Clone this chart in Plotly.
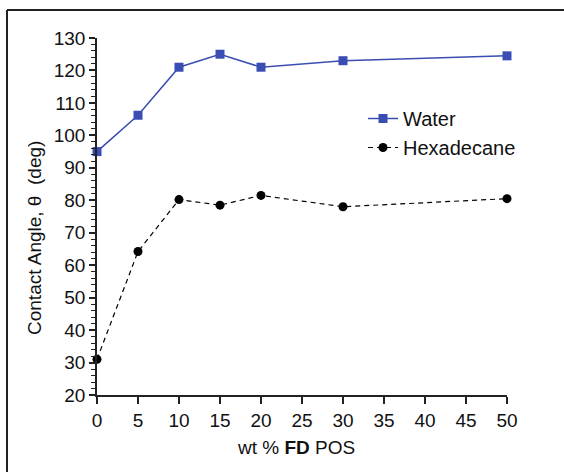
import plotly.graph_objects as go

wt_pct = [0, 5, 10, 15, 20, 30, 50]
water = [95, 106.2, 121, 125, 121, 123, 124.5]
hexadecane = [31, 64.2, 80.2, 78.5, 81.5, 78, 80.5]

FONT = "Liberation Sans, Arial, sans-serif"
BLUE = "#3a4db3"

fig = go.Figure()
fig.add_trace(go.Scatter(
    x=wt_pct, y=water, name="Water", mode="lines+markers",
    line=dict(color=BLUE, width=1.5),
    marker=dict(symbol="square", size=9, color=BLUE),
    cliponaxis=False))
fig.add_trace(go.Scatter(
    x=wt_pct, y=hexadecane, name="Hexadecane", mode="lines+markers",
    line=dict(color="black", width=1.2, dash="5px,4px"),
    marker=dict(symbol="circle", size=9, color="black"),
    cliponaxis=False))

L, R, T, B = 97, 57, 38, 77
W, H = 564, 472
pw, ph = W - L - R, H - T - B

def px2x(p):
    return (p - L) / pw

def px2y(p):
    return (H - B - p) / ph

fig.update_layout(
    width=W, height=H,
    margin=dict(l=L, r=R, t=T, b=B),
    paper_bgcolor="white", plot_bgcolor="white",
    font=dict(family=FONT, size=19, color="#111"),
    showlegend=True,
    legend=dict(x=px2x(363), y=px2y(99), xanchor="left", yanchor="top",
                bgcolor="rgba(0,0,0,0)", font=dict(size=20),
                tracegroupgap=0, itemsizing="trace"),
    xaxis=dict(range=[0, 50], tickvals=list(range(0, 51, 5)),
               showgrid=False, zeroline=False, showline=True,
               linecolor="#222", linewidth=1.5, ticks="outside",
               ticklen=7, tickwidth=1.5, tickcolor="#222",
               tickfont=dict(size=19)),
    yaxis=dict(range=[20, 130], tickvals=list(range(20, 131, 10)),
               showgrid=False, zeroline=False, showline=True,
               linecolor="#222", linewidth=1.5, ticks="outside",
               ticklen=6, tickwidth=1.5, tickcolor="#222",
               tickfont=dict(size=19),
               minor=dict(dtick=2, ticks="outside", ticklen=4,
                          tickwidth=1.2, tickcolor="#222", showgrid=False)),
)

fig.add_annotation(text="wt % <b>FD</b> POS", xref="paper", yref="paper",
                   x=px2x(296), y=px2y(447), showarrow=False,
                   font=dict(size=19), xanchor="center", yanchor="middle")
fig.add_annotation(text="Contact Angle, θ  (deg)", xref="paper", yref="paper",
                   x=px2x(34), y=px2y(238), showarrow=False, textangle=-90,
                   font=dict(size=19), xanchor="center", yanchor="middle")

# outer frame (top and left edges)
fig.add_shape(type="line", xref="paper", yref="paper",
              x0=px2x(7), y0=px2y(10), x1=px2x(566), y1=px2y(10),
              line=dict(color="#222", width=2))
fig.add_shape(type="line", xref="paper", yref="paper",
              x0=px2x(7), y0=px2y(10), x1=px2x(7), y1=px2y(474),
              line=dict(color="#222", width=2))

fig.write_html("out.html")
